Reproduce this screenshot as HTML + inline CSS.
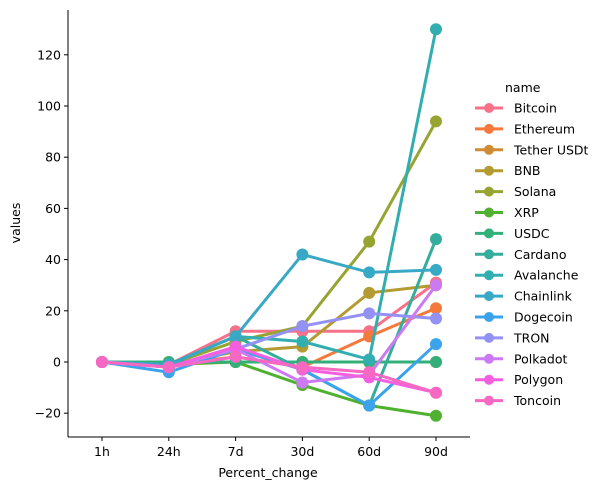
<!DOCTYPE html>
<html><head><meta charset="utf-8"><style>body{margin:0;background:#fff}svg{font-family:"DejaVu Sans","Liberation Sans",sans-serif}</style></head>
<body>
<svg id="c" width="611" height="490" viewBox="0 0 611 490"></svg>
<script>
const categories=["1h","24h","7d","30d","60d","90d"];
const names=["Bitcoin","Ethereum","Tether USDt","BNB","Solana","XRP","USDC","Cardano","Avalanche","Chainlink","Dogecoin","TRON","Polkadot","Polygon","Toncoin"];
const bitcoin=[0,-1,12,12,12,31];
const ethereum=[0,-1,2,-2,10,21];
const tether=[0,0,0,0,0,0];
const bnb=[0,-1,4,6,27,30];
const solana=[0,-1,8,14,47,94];
const xrp=[0,-1,0,-9,-17,-21];
const usdc=[0,0,0,0,0,0];
const cardano=[0,-1,10,-3,-17,48];
const avalanche=[0,-1,10,8,1,130];
const chainlink=[0,-1,10,42,35,36];
const dogecoin=[0,-4,5,-3,-17,7];
const tron=[0,-2,5,14,19,17];
const polkadot=[0,-2,5,-8,-5,30];
const polygon=[0,-2,6,-3,-6,-12];
const toncoin=[0,-2,2,-2,-4,-12];
const yTicks=[-20,0,20,40,60,80,100,120];
const series=[bitcoin,ethereum,tether,bnb,solana,xrp,usdc,cardano,avalanche,chainlink,dogecoin,tron,polkadot,polygon,toncoin];
const colors=["#f77189","#f5793a","#d08c32","#b39a31","#97a431","#50b131","#33b07a","#35ad9c","#33aeb0","#38a9c5","#3ba3ec","#9491f4","#cc7af4","#f45fe0","#f668c2"];
const svg=document.getElementById('c');const NS="http://www.w3.org/2000/svg";
function mk(t,a,p){const e=document.createElementNS(NS,t);for(const k in a)e.setAttribute(k,a[k]);(p||svg).appendChild(e);return e;}
const x0=68,x1=470,yTop=10,yBot=437;
const xs=i=>102+i*(436-102)/(categories.length-1);
const ys=v=>362-v*2.56;
const ax=mk('g',{});
mk('line',{x1:x0,y1:yTop,x2:x0,y2:yBot,stroke:'#000','stroke-width':1},ax);
mk('line',{x1:x0,y1:yBot,x2:x1,y2:yBot,stroke:'#000','stroke-width':1},ax);
yTicks.forEach(v=>{const y=ys(v);mk('line',{x1:x0-4,y1:y,x2:x0,y2:y,stroke:'#000'},ax);
const t=mk('text',{x:x0-7,y:y+4.5,'text-anchor':'end','font-size':12.5},ax);t.textContent=v<0?'\u2212'+(-v):v;
});
categories.forEach((c,i)=>{const x=xs(i);mk('line',{x1:x,y1:yBot,x2:x,y2:yBot+4,stroke:'#000'},ax);
const t=mk('text',{x:x,y:yBot+19,'text-anchor':'middle','font-size':12.5},ax);t.textContent=c;
});
let t=mk('text',{x:268,y:477,'text-anchor':'middle','font-size':12.5});t.textContent='Percent_change';

t=mk('text',{x:20,y:223,'text-anchor':'middle','font-size':12.5,transform:'rotate(-90 20 223)'});t.textContent='values';

series.forEach((s,k)=>{const g=mk('g',{});
mk('polyline',{points:s.map((v,i)=>xs(i)+','+ys(v)).join(' '),fill:'none',stroke:colors[k],'stroke-width':3},g);
s.forEach((v,i)=>{const c=mk('circle',{cx:xs(i),cy:ys(v),r:6,fill:colors[k]},g);});});
const lg=mk('g',{});
t=mk('text',{x:505,y:92,'font-size':12.5},lg);t.textContent='name';
names.forEach((n,k)=>{const y=108+k*20.9;const e=mk('g',{},lg);
mk('line',{x1:475,y1:y,x2:503,y2:y,stroke:colors[k],'stroke-width':3},e);
mk('circle',{cx:489,cy:y,r:5,fill:colors[k]},e);
const tt=mk('text',{x:514,y:y+4.5,'font-size':12.5},e);tt.textContent=n;});
</script>
</body></html>
